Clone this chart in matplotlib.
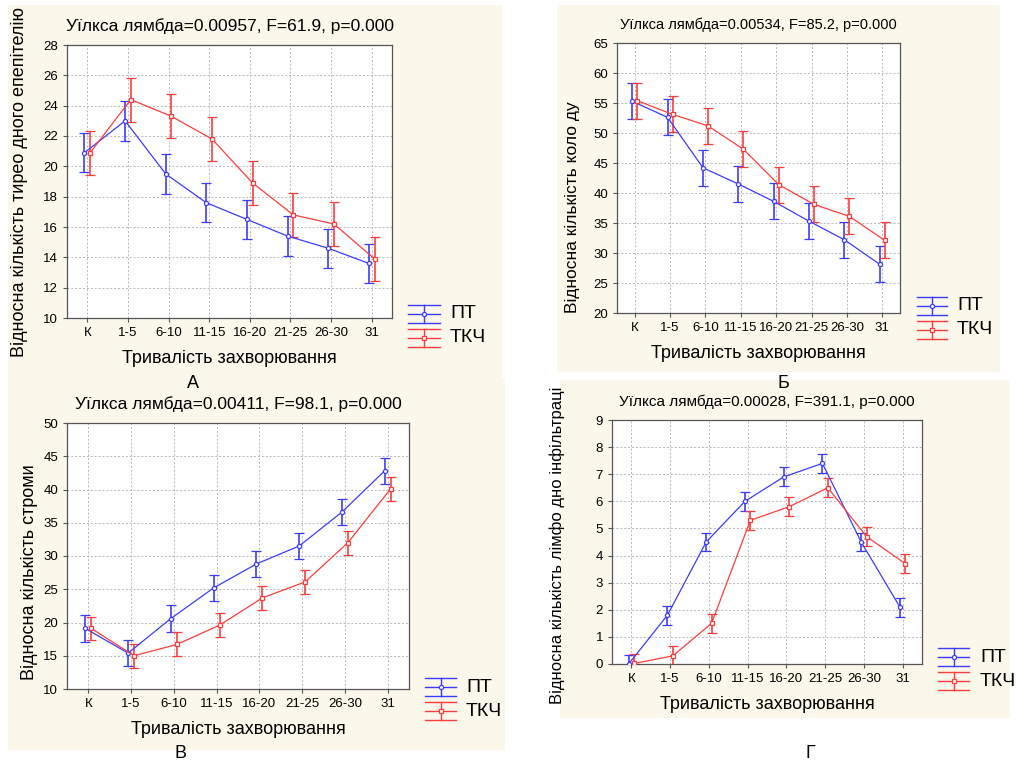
import numpy as np
import matplotlib.pyplot as plt
from matplotlib.lines import Line2D
from matplotlib.patches import Rectangle

plt.rcParams['font.family'] = ['Liberation Sans', 'DejaVu Sans']

# categories (тривалість захворювання)
cats = ['К', '1-5', '6-10', '11-15', '16-20', '21-25', '26-30', '31']

# A: тиреоїдний епітелій
a_pt = [20.9, 23.0, 19.5, 17.6, 16.5, 15.4, 14.6, 13.6]
a_pt_err = [1.3, 1.3, 1.3, 1.3, 1.3, 1.3, 1.3, 1.3]
a_tkc = [20.9, 24.4, 23.3, 21.8, 18.9, 16.8, 16.2, 13.9]
a_tkc_err = [1.45, 1.45, 1.45, 1.45, 1.45, 1.45, 1.45, 1.45]

# Б: колоїд
b_pt = [55.3, 52.6, 44.2, 41.5, 38.6, 35.3, 32.2, 28.1]
b_pt_err = [3.0, 3.0, 3.0, 3.0, 3.0, 3.0, 3.0, 3.0]
b_tkc = [55.4, 53.1, 51.2, 47.3, 41.4, 38.1, 36.1, 32.1]
b_tkc_err = [3.0, 3.0, 3.0, 3.0, 3.0, 3.0, 3.0, 3.0]

# В: строма
c_pt = [19.1, 15.4, 20.6, 25.2, 28.8, 31.5, 36.6, 42.8]
c_pt_err = [2.0, 2.0, 2.0, 2.0, 2.0, 2.0, 2.0, 2.0]
c_tkc = [19.1, 15.0, 16.7, 19.6, 23.7, 26.1, 32.0, 40.1]
c_tkc_err = [1.8, 1.8, 1.8, 1.8, 1.8, 1.8, 1.8, 1.8]

# Г: лімфоїдна інфільтрація
d_pt = [0.0, 1.8, 4.5, 6.0, 6.9, 7.4, 4.5, 2.1]
d_pt_err = [0.35, 0.35, 0.35, 0.35, 0.35, 0.35, 0.35, 0.35]
d_tkc = [0.02, 0.3, 1.5, 5.3, 5.8, 6.5, 4.7, 3.7]
d_tkc_err = [0.35, 0.35, 0.35, 0.35, 0.35, 0.35, 0.35, 0.35]

W, H = 1016, 765
BLUE = '#3c3cff'
RED = '#ff3c3c'
CREAM = '#fbf7ea'

fig = plt.figure(figsize=(W / 100, H / 100), dpi=100)
fig.patch.set_facecolor('white')


def box(x0, y0, x1, y1):
    # pixel box (top-left origin) -> figure fraction rect
    return [x0 / W, 1 - y1 / H, (x1 - x0) / W, (y1 - y0) / H]


def cream(x0, y0, x1, y1):
    fig.add_artist(Rectangle((x0 / W, 1 - y1 / H), (x1 - x0) / W, (y1 - y0) / H,
                             transform=fig.transFigure, facecolor=CREAM,
                             edgecolor='none', zorder=-10))


def legend(x0, x1, yc, xt, fs):
    for i, (name, col, mk) in enumerate([('ПТ', BLUE, 'o'), ('ТКЧ', RED, 's')]):
        y = yc + i * 24
        for dy in (-9, 0, 9):
            fig.add_artist(Line2D([x0 / W, x1 / W], [1 - (y + dy) / H] * 2,
                                  transform=fig.transFigure, color=col, lw=1))
        xm = (x0 + x1) / 2
        fig.add_artist(Line2D([xm / W] * 2, [1 - (y - 9) / H, 1 - (y + 9) / H],
                              transform=fig.transFigure, color=col, lw=1))
        fig.add_artist(Line2D([xm / W], [1 - y / H], transform=fig.transFigure,
                              marker=mk, ms=3, mfc='white', mec=col, mew=0.9))
        fig.text(xt / W, 1 - y / H, name, fontsize=fs, va='center', ha='left')


def panel(rect, pt, pt_err, tkc, tkc_err, ylim, yticks, title, tfs,
          ylabel, ylx, yly, yfs):
    ax = fig.add_axes(box(*rect))
    x = np.arange(len(cats))
    ax.errorbar(x - 0.07, pt, yerr=pt_err, color=BLUE, lw=0.9, elinewidth=1.2,
                capsize=3.5, capthick=1, marker='o', ms=3, mfc='white', mec=BLUE,
                mew=0.9, zorder=3)
    ax.errorbar(x + 0.07, tkc, yerr=tkc_err, color=RED, lw=0.9, elinewidth=1.2,
                capsize=3.5, capthick=1, marker='s', ms=3, mfc='white', mec=RED,
                mew=0.9, zorder=3)
    ax.set_xlim(-0.5, len(cats) - 0.5)
    ax.set_ylim(*ylim)
    ax.set_yticks(yticks)
    ax.set_xticks(x)
    ax.set_xticklabels(cats)
    ax.grid(True, color='#b8b8b8', ls=(0, (2, 2)), lw=0.7)
    ax.set_axisbelow(True)
    ax.tick_params(labelsize=9.5, length=3, color='#555555')
    for s in ax.spines.values():
        s.set_color('#555555')
        s.set_linewidth(0.9)
    ax.set_title(title, fontsize=tfs, pad=10)
    ax.set_xlabel('Тривалість захворювання', fontsize=13, labelpad=8)
    fig.text(ylx / W, 1 - yly / H, ylabel, rotation=90, fontsize=yfs,
             ha='center', va='center')
    return ax


cream(8, 5, 502, 378)
cream(557, 5, 1000, 372)
cream(8, 378, 505, 750)
cream(560, 380, 1010, 718)

panel((67, 45, 392, 318), a_pt, a_pt_err, a_tkc, a_tkc_err, (10, 28),
      range(10, 29, 2), 'Уїлкса лямбда=0.00957, F=61.9, p=0.000', 12.5,
      'Відносна кількість тирео дного епепітелію', 20, 182, 13)
panel((617, 43, 900, 313), b_pt, b_pt_err, b_tkc, b_tkc_err, (20, 65),
      range(20, 66, 5), 'Уїлкса лямбда=0.00534, F=85.2, p=0.000', 10.5,
      'Відносна кількість коло ду', 573, 207, 12.5)
panel((67, 423, 409, 689), c_pt, c_pt_err, c_tkc, c_tkc_err, (10, 50),
      range(10, 51, 5), 'Уїлкса лямбда=0.00411, F=98.1, p=0.000', 12.5,
      'Відносна кількість строми', 30, 572, 13)
panel((612, 420, 922, 664), d_pt, d_pt_err, d_tkc, d_tkc_err, (0, 9),
      range(0, 10), 'Уїлкса лямбда=0.00028, F=391.1, p=0.000', 11,
      'Відносна кількість лімфо дно інфільтраці', 557, 545, 12)

legend(408, 440, 314, 450, 14)
legend(917, 947, 306, 957, 14)
legend(425, 456, 687, 466, 14)
legend(938, 969, 657, 980, 14)

fig.text(193 / W, 1 - 383 / H, 'А', fontsize=13, ha='center', va='center')
fig.text(783 / W, 1 - 384 / H, 'Б', fontsize=13, ha='center', va='center')
fig.text(180 / W, 1 - 753 / H, 'В', fontsize=13, ha='center', va='center')
fig.text(810 / W, 1 - 753 / H, 'Г', fontsize=13, ha='center', va='center')

fig.savefig('out.png', dpi=100)
